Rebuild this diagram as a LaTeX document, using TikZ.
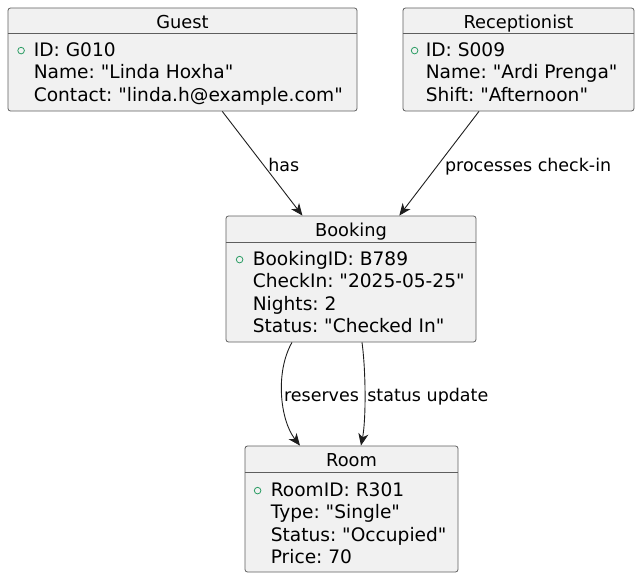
\documentclass[tikz,border=0pt]{standalone}
\usepackage{fontspec}
\setmainfont{DejaVu Sans}[Ligatures=TeXOff]
\usetikzlibrary{positioning,arrows.meta}
\definecolor{boxfill}{HTML}{F1F1F1}
\definecolor{boxline}{HTML}{5E5E5E}
\definecolor{fieldmark}{HTML}{2E9E66}
\definecolor{linkline}{HTML}{1E1E1E}
\frenchspacing

\begin{document}
\begin{tikzpicture}[x=1pt,y=-1pt,>={Stealth[length=12pt,width=10pt,inset=3.5pt]},
  obj/.style={draw=boxline,fill=boxfill,rounded corners=2.5pt,line width=0.8pt,inner sep=0pt},
  objtitle/.style={font=\fontsize{17.8}{22}\selectfont,anchor=base,inner sep=0pt},
  fields/.style={font=\fontsize{18.6}{22.3}\selectfont,align=left,anchor=base west,inner sep=0pt},
  sepline/.style={draw=boxline,line width=0.8pt},
  pub/.style={draw=fieldmark,line width=0.8pt},
  link/.style={->,draw=linkline,line width=0.9pt},
  lbl/.style={font=\fontsize{17.5}{22}\selectfont,anchor=base west,inner sep=0pt}]
\useasboundingbox (0,0) rectangle (644,575);

% objects (field nodes sit on the baseline of their last line)
\node[obj,minimum width=349pt,minimum height=103pt] (guest) at (182.5,59.5) {};
\node[objtitle] (guestT) at ([yshift=-20.5pt]guest.north) {Guest};
\draw[sepline] ([yshift=-26pt]guest.north west) -- ([yshift=-26pt]guest.north east);
\draw[pub] ([xshift=13.5pt,yshift=-43pt]guest.north west) circle (3.3pt);
\node[fields] (guestF) at ([xshift=26pt,yshift=-93.6pt]guest.north west)
  {ID: G010\\Name: "Linda Hoxha"\\Contact: "linda.h@example.com"};

\node[obj,minimum width=231pt,minimum height=103pt] (recep) at (518.5,59.5) {};
\node[objtitle] (recepT) at ([yshift=-20.5pt]recep.north) {Receptionist};
\draw[sepline] ([yshift=-26pt]recep.north west) -- ([yshift=-26pt]recep.north east);
\draw[pub] ([xshift=12pt,yshift=-43pt]recep.north west) circle (3.3pt);
\node[fields] (recepF) at ([xshift=23pt,yshift=-93.6pt]recep.north west)
  {ID: S009\\Name: "Ardi Prenga"\\Shift: "Afternoon"};

\node[obj,minimum width=250pt,minimum height=126pt] (booking) at (351,279) {};
\node[objtitle] (bookingT) at ([yshift=-21pt]booking.north) {Booking};
\draw[sepline] ([yshift=-27pt]booking.north west) -- ([yshift=-27pt]booking.north east);
\draw[pub] ([xshift=14pt,yshift=-44pt]booking.north west) circle (3.3pt);
\node[fields] (bookingF) at ([xshift=27pt,yshift=-116.9pt]booking.north west)
  {BookingID: B789\\CheckIn: "2025-05-25"\\Nights: 2\\Status: "Checked In"};

\node[obj,minimum width=213pt,minimum height=126pt] (room) at (351.5,509) {};
\node[objtitle] (roomT) at ([yshift=-21pt]room.north) {Room};
\draw[sepline] ([yshift=-27pt]room.north west) -- ([yshift=-27pt]room.north east);
\draw[pub] ([xshift=13pt,yshift=-45pt]room.north west) circle (3.3pt);
\node[fields] (roomF) at ([xshift=26pt,yshift=-117.9pt]room.north west)
  {RoomID: R301\\Type: "Single"\\Status: "Occupied"\\Price: 70};

% links
\draw[link] (guest) -- node[lbl,xshift=5.5pt,yshift=-7.5pt] (hasL) {has} (booking);
\draw[link] (recep) -- node[lbl,xshift=5.5pt,yshift=-7.5pt] (procL) {processes check-in} (booking);
\draw[link] ([xshift=-59pt]booking.south) .. controls (275,372) and (280,420) .. ([xshift=-51.5pt]room.north)
  node[lbl,pos=0.5,xshift=1.5pt,yshift=-5.5pt] (resL) {reserves};
\draw[link] ([xshift=11pt]booking.south) .. controls (366,372) and (366,420) .. ([xshift=9.5pt]room.north)
  node[lbl,pos=0.5,xshift=2pt,yshift=-5.5pt] (statL) {status update};
\end{tikzpicture}
\end{document}
